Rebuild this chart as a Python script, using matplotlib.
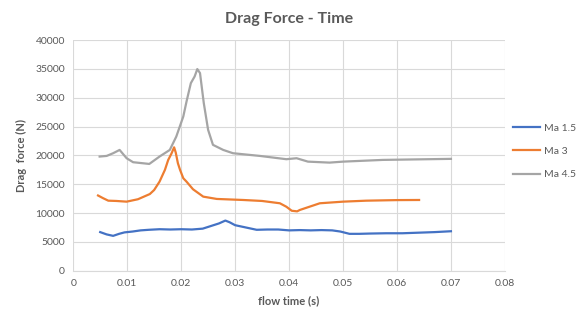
import matplotlib
matplotlib.use("Agg")
import matplotlib.pyplot as plt

t_ma15 = [0.005, 0.0062, 0.0074, 0.0085, 0.0095, 0.011, 0.0125, 0.014, 0.016, 0.018, 0.020, 0.022, 0.024,
          0.025, 0.026, 0.027, 0.0282, 0.029, 0.030, 0.032, 0.034, 0.036, 0.038, 0.040, 0.042, 0.044, 0.046,
          0.048, 0.0495, 0.0512, 0.053, 0.055, 0.058, 0.061, 0.064, 0.067, 0.070]
v_ma15 = [6700, 6300, 6050, 6400, 6650, 6800, 7000, 7100, 7200, 7150, 7200, 7150, 7300,
          7600, 7900, 8200, 8700, 8400, 7900, 7500, 7100, 7150, 7150, 7000, 7050, 7000, 7050,
          7000, 6800, 6400, 6400, 6450, 6500, 6500, 6600, 6700, 6850]

t_ma3 = [0.0046, 0.0055, 0.0065, 0.008, 0.0099, 0.012, 0.0142, 0.015, 0.016, 0.017, 0.0176, 0.0182, 0.0187,
         0.019, 0.0194, 0.0198, 0.0204, 0.021, 0.0222, 0.0241, 0.0266, 0.0315, 0.035, 0.0383, 0.0395, 0.0405,
         0.0415, 0.042, 0.0457, 0.05, 0.0543, 0.06, 0.0641]
v_ma3 = [13050, 12600, 12150, 12100, 11980, 12400, 13300, 14000, 15450, 17500, 19200, 20300, 21400,
         20500, 18650, 17500, 16040, 15450, 14130, 12850, 12450, 12270, 12100, 11700, 11100, 10400,
         10300, 10540, 11700, 11980, 12150, 12250, 12270]

t_ma45 = [0.0049, 0.0062, 0.0074, 0.0086, 0.0099, 0.0111, 0.0141, 0.016, 0.0179, 0.0191, 0.0204, 0.021,
          0.0218, 0.0225, 0.023, 0.0235, 0.0242, 0.025, 0.0259, 0.0278, 0.0296, 0.0346, 0.0395, 0.0414,
          0.0435, 0.0475, 0.05, 0.0574, 0.07]
v_ma45 = [19800, 19910, 20380, 20950, 19510, 18820, 18520, 19800, 20950, 23260, 26740, 29340,
          32530, 33680, 34970, 34270, 29060, 24430, 21830, 20950, 20380, 19910, 19340, 19510,
          18920, 18750, 18920, 19220, 19400]

series_names = ["Ma 1.5", "Ma 3", "Ma 4.5"]
colors = ["#4472C4", "#ED7D31", "#A5A5A5"]

plt.rcParams['font.family'] = ['Lato', 'DejaVu Sans']

fig = plt.figure(figsize=(5.81, 3.13), dpi=100)
ax = fig.add_axes([0.126, 0.135, 0.743, 0.737])

for t, v, name, c in zip([t_ma15, t_ma3, t_ma45], [v_ma15, v_ma3, v_ma45], series_names, colors):
    ax.plot(t, v, color=c, lw=1.6, label=name, solid_joinstyle='round')

ax.set_xlim(0, 0.08)
ax.set_ylim(0, 40000)
ax.set_xticks([i * 0.01 for i in range(9)])
ax.set_xticklabels(["0", "0.01", "0.02", "0.03", "0.04", "0.05", "0.06", "0.07", "0.08"])
ax.set_yticks(range(0, 40001, 5000))
ax.grid(True, color="#D9D9D9", lw=0.8)
ax.set_axisbelow(True)
for s in ["top", "right", "left"]:
    ax.spines[s].set_visible(False)
ax.spines["bottom"].set_color("#D9D9D9")
ax.tick_params(length=0, labelsize=7.5, colors="#595959", pad=6)

ax.set_title("Drag Force - Time", fontsize=11.5, fontweight="bold", color="#595959", pad=12)
ax.set_xlabel("flow time (s)", fontsize=8, fontweight="bold", color="#595959", labelpad=5)
ax.set_ylabel("Drag  force (N)", fontsize=8, fontweight="bold", color="#595959", labelpad=6)

leg = ax.legend(loc="center left", bbox_to_anchor=(0.998, 0.518), frameon=False, fontsize=7.5,
                handlelength=2.6, labelspacing=1.35, handletextpad=0.35)
for txt in leg.get_texts():
    txt.set_color("#595959")

fig.savefig("out.png", dpi=100)
